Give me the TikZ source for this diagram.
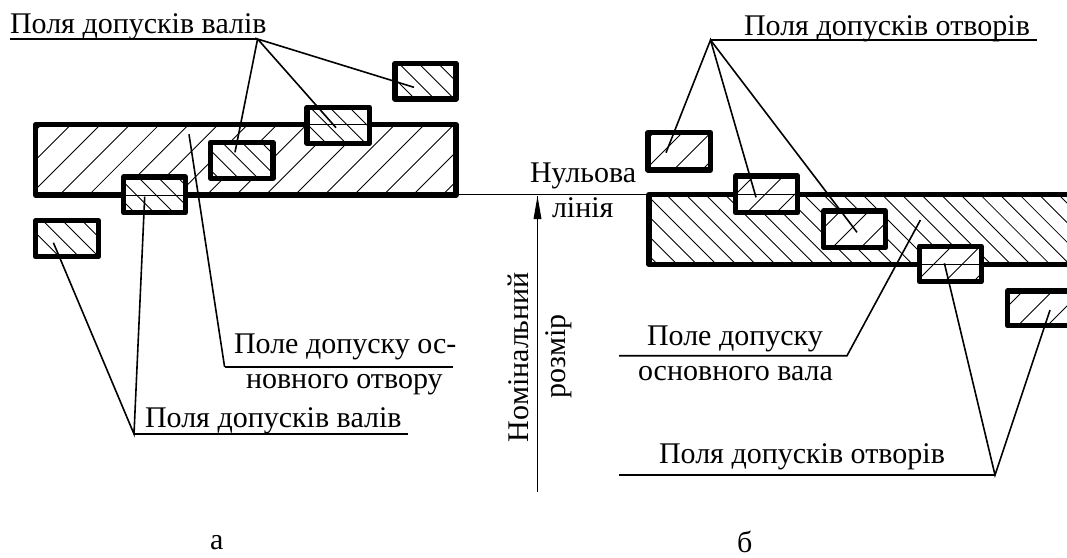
\documentclass[tikz,border=0pt]{standalone}
\usepackage{fontspec}
\setmainfont{Liberation Serif}
\tikzset{
  x=0.75pt,y=-0.75pt,
  thick box/.style={draw=black,line width=4pt,line join=round},
  hatchline/.style={draw=black,line width=0.65pt},
  leader/.style={draw=black,line width=1.2pt},
  refline/.style={draw=black,line width=0.7pt},
  lbl/.style={anchor=base west,inner sep=0pt,outer sep=0pt,font=\fontsize{22.5pt}{24pt}\selectfont},
}
% x1,y1,x2,y2, sign (+1: x+y=c, -1: x-y=c), c, spacing
\newcommand{\hatchbox}[7]{%
  \begin{scope}
    \clip (#1,#2) rectangle (#3,#4);
    \fill[white] (#1,#2) rectangle (#3,#4);
    \foreach \k in {-12,...,40}{
      \pgfmathsetmacro{\cc}{#6+\k*#7}
      \ifnum#5>0
        \pgfmathsetmacro{\ya}{\cc-#1}\pgfmathsetmacro{\yb}{\cc-#3}
      \else
        \pgfmathsetmacro{\ya}{#1-\cc}\pgfmathsetmacro{\yb}{#3-\cc}
      \fi
      \draw[hatchline] (#1,\ya) -- (#3,\yb);
    }
  \end{scope}
  \draw[thick box] (#1,#2) rectangle (#3,#4);
}
\begin{document}
\begin{tikzpicture}
\useasboundingbox (0,0) rectangle (1067,557);
\fill[white] (0,0) rectangle (1067,557);

% Left: basic hole field
\hatchbox{35.5}{124.7}{456}{195}{1}{195.5}{29.46}
% right: basic shaft field (runs past the page edge)
\hatchbox{649}{194.6}{1090}{264.4}{-1}{471.7}{19.62}

% Left small boxes
\hatchbox{395}{63.3}{456}{99}{-1}{335.6}{19.6}
\hatchbox{307}{107.3}{369.5}{143.3}{-1}{202.7}{19.6}
\hatchbox{210.6}{142.3}{273}{178.3}{-1}{79.8}{19.6}
\hatchbox{123.6}{177}{185.4}{212.6}{-1}{-58.5}{19.6}
\hatchbox{35.5}{220.7}{98.4}{256.7}{-1}{-177.7}{19.6}
\draw[hatchline] (307,124.7) -- (369.5,124.7);
\draw[hatchline] (123.6,195) -- (185.4,195);

% Right small boxes
\hatchbox{648}{132.7}{710.5}{170}{1}{814.9}{28.5}
\hatchbox{735.5}{176}{797.8}{212.7}{1}{930}{29.5}
\hatchbox{823.5}{211}{885.5}{247.7}{1}{1080}{28.5}
\hatchbox{919.4}{246.2}{981.2}{281.7}{1}{1198}{28.5}
\hatchbox{1007.5}{291}{1090}{325.5}{1}{1314}{29.5}
\draw[hatchline] (735.5,194.6) -- (797.8,194.6);
\draw[hatchline] (919.4,264.4) -- (981.2,264.4);

% Zero line and nominal-size arrow
\coordinate (zeroL) at (456,194.8);
\coordinate (zeroR) at (649,194.8);
\draw[refline] (zeroL) -- (zeroR);
\coordinate (dimTop) at (537.5,196);
\coordinate (dimBot) at (537.5,491.7);
\draw[refline] (dimBot) -- (dimTop);
\fill[black] (537.5,196) -- (541.5,219) -- (533.5,219) -- cycle;

% Leaders left
\coordinate (lu0) at (10,39);
\coordinate (lu1) at (257.6,39);
\draw[leader] (lu0) -- (lu1);
\coordinate (la1) at (414,87.3);
\coordinate (la2) at (336,127.7);
\coordinate (la3) at (235,152.3);
\draw[leader] (la1) -- (lu1) -- (la2);
\draw[leader] (lu1) -- (la3);

\coordinate (fa0) at (189,134.3);
\coordinate (fa1) at (224.6,367);
\coordinate (fa2) at (452.5,367);
\draw[leader] (fa0) -- (fa1);
\draw[line width=1.6pt] (fa1) -- (fa2);

\coordinate (lb0) at (134,434);
\coordinate (lb1) at (408,434);
\coordinate (lb2) at (53.4,242.7);
\coordinate (lb3) at (144.7,196.7);
\draw[leader] (lb1) -- (lb0);
\draw[leader] (lb2) -- (lb0) -- (lb3);

% Leaders right
\coordinate (ru0) at (710.5,40);
\coordinate (ru1) at (1036.8,40);
\draw[leader] (ru0) -- (ru1);
\coordinate (ra1) at (666,152.7);
\coordinate (ra2) at (756,197.3);
\coordinate (ra3) at (857,232.3);
\draw[leader] (ra1) -- (ru0) -- (ra2);
\draw[leader] (ru0) -- (ra3);

\coordinate (fb0) at (920.4,220);
\coordinate (fb1) at (847,355.7);
\coordinate (fb2) at (619,355.7);
\draw[leader] (fb0) -- (fb1) -- (fb2);

\coordinate (rb0) at (995,475);
\coordinate (rb1) at (619,475);
\coordinate (rb2) at (944.4,263.3);
\coordinate (rb3) at (1050,310);
\draw[leader] (rb1) -- (rb0);
\draw[leader] (rb2) -- (rb0) -- (rb3);

% Labels
\node[lbl] (t1) at (10,33) {Поля допусків валів};
\node[lbl] (t2) at (744,35) {Поля допусків отворів};
\node[lbl] (t3) at (530,182.7) {Нульова};
\node[lbl] (t4) at (552,217) {лінія};
\node[lbl] (t5) at (234,353) {Поле допуску ос-};
\node[lbl] (t6) at (246,388) {новного отвору};
\node[lbl] (t7) at (145,427) {Поля допусків валів};
\node[lbl] (t8) at (647,345) {Поле допуску};
\node[lbl] (t9) at (638,380) {основного вала};
\node[lbl] (t10) at (659,463) {Поля допусків отворів};
\node[lbl] (t11) at (210,549) {а};
\node[lbl] (t12) at (737,552) {б};
\node[lbl,rotate=90] (t13) at (528,442) {Номінальний};
\node[lbl,rotate=90] (t14) at (565,398) {розмір};
\end{tikzpicture}
\end{document}
